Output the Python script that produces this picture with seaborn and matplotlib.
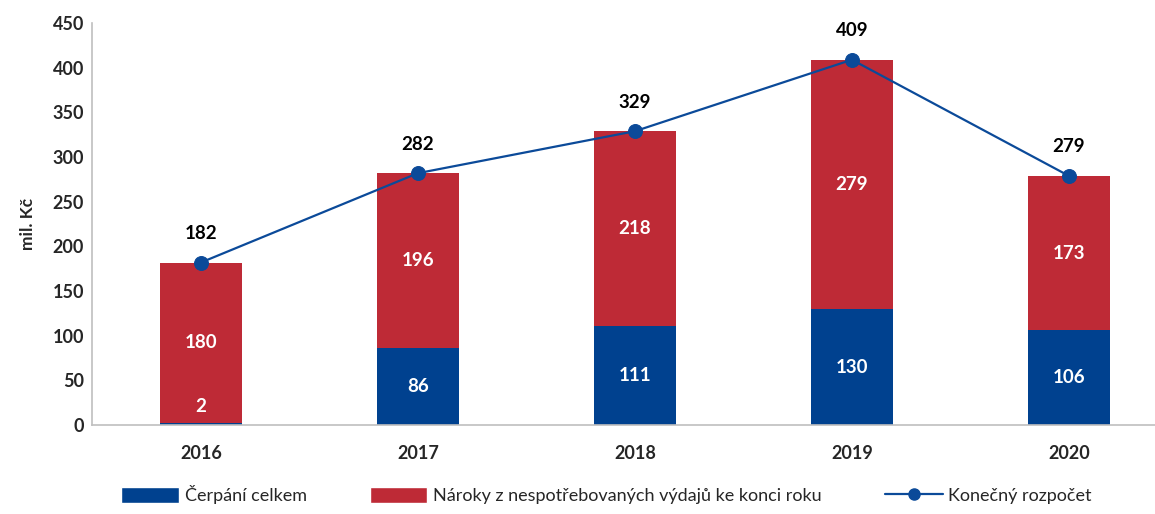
import numpy as np
import pandas as pd
import matplotlib.pyplot as plt
import seaborn as sns
from matplotlib.patches import Patch
from matplotlib.lines import Line2D

# Data
years = ["2016", "2017", "2018", "2019", "2020"]
cerpani = [2, 86, 111, 130, 106]
naroky = [180, 196, 218, 279, 173]
rozpocet = [182, 282, 329, 409, 279]

blue = "#00418F"
red = "#BE2A36"
line_blue = "#0B4A99"

df = pd.DataFrame({"year": years, "cerpani": cerpani, "naroky": naroky, "rozpocet": rozpocet})
df["total"] = df["cerpani"] + df["naroky"]
df["pos"] = np.arange(len(years))

sns.set_theme(style="white")
plt.rcParams["font.family"] = ["Lato", "DejaVu Sans"]

fig = plt.figure(figsize=(11.55, 5.14), dpi=100)
ax = fig.add_axes([0.08, 0.173, 0.93, 0.782])

# Stacked bars: total in red, then blue bottom segment over it
sns.barplot(data=df, x="year", y="total", color=red, width=0.38, saturation=1,
            linewidth=0, ax=ax)
sns.barplot(data=df, x="year", y="cerpani", color=blue, width=0.38, saturation=1,
            linewidth=0, ax=ax)

# Line for final budget
sns.lineplot(data=df, x="pos", y="rozpocet", color=line_blue, linewidth=1.6,
             marker="o", markersize=10, markeredgecolor=line_blue, ax=ax)

# Labels
for i, row in df.iterrows():
    ax.text(i, max(row["cerpani"] / 2, 21), str(row["cerpani"]), ha="center", va="center",
            color="white", fontsize=13.5, fontweight="bold")
    ax.text(i, row["cerpani"] + row["naroky"] / 2, str(row["naroky"]), ha="center", va="center",
            color="white", fontsize=13.5, fontweight="bold")
    ax.annotate(str(row["rozpocet"]), (i, row["rozpocet"]), xytext=(0, 21),
                textcoords="offset points", ha="center", va="center",
                fontsize=13.5, fontweight="bold", color="black")

ax.set_xlim(-0.5, 4.45)
ax.set_ylim(0, 450)
ax.set_yticks(range(0, 451, 50))
ax.set_xlabel("")
ax.set_ylabel("mil. Kč", fontsize=12.5, fontweight="bold", labelpad=12)
ax.tick_params(axis="both", length=0, labelsize=13)
ax.tick_params(axis="x", pad=14)
ax.tick_params(axis="y", pad=6)
for lab in ax.get_xticklabels() + ax.get_yticklabels():
    lab.set_fontweight("bold")

for s in ["top", "right"]:
    ax.spines[s].set_visible(False)
for s in ["left", "bottom"]:
    ax.spines[s].set_color("#BFBFBF")
    ax.spines[s].set_linewidth(1.2)

handles = [
    Patch(facecolor=blue, label="Čerpání celkem"),
    Patch(facecolor=red, label="Nároky z nespotřebovaných výdajů ke konci roku"),
    Line2D([0], [0], color=line_blue, marker="o", markersize=8, linewidth=1.6,
           label="Konečný rozpočet"),
]
fig.legend(handles=handles, loc="lower center", bbox_to_anchor=(0.525, -0.012), ncol=3,
           frameon=False, fontsize=13, handlelength=3.2, handleheight=1.0,
           handletextpad=0.3, columnspacing=3.5)

fig.savefig("out.png", dpi=100)
